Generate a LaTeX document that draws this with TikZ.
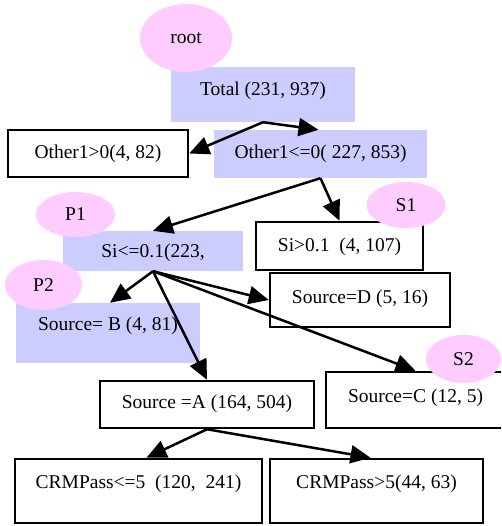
\documentclass[tikz,border=0pt]{standalone}
\usepackage{fontspec}
\setmainfont{Liberation Serif}
\usepackage{tikz}
\usetikzlibrary{shapes.geometric, arrows.meta}
\definecolor{nodepink}{RGB}{255,204,255}
\definecolor{nodeblue}{RGB}{204,204,255}

\begin{document}
\begin{tikzpicture}[x=1pt, y=-1pt,
    font=\fontsize{19.5}{23}\selectfont,
    bluebox/.style={rectangle, fill=nodeblue, inner sep=0pt, text height=14pt, text depth=4pt},
    whitebox/.style={rectangle, draw, line width=2.5pt, fill=white, inner sep=0pt, text height=14pt, text depth=4pt},
    tag/.style={ellipse, fill=nodepink, inner sep=0pt},
    arr/.style={-{Triangle[length=20pt,width=18pt]}, line width=2.5pt}]
    \clip (0,0) rectangle (501,526);
    % Top of the tree
    \node[bluebox, minimum width=184, minimum height=55, text depth=12pt] (total) at (263,94.5) {Total (231, 937)\hspace{18pt}};
    \node[whitebox, minimum width=180, minimum height=47] (oth1) at (98,153.5) {Other1>0(4, 82)\hspace{14pt}};
    \node[bluebox, minimum width=213, minimum height=48] (oth2) at (320.5,154) {Other1<=0( 227, 853)};
    % Si split
    \node[bluebox, minimum width=180, minimum height=40, text depth=2pt] (si1) at (153,251) {Si<=0.1(223,\hspace{39pt}};
    \node[whitebox, minimum width=167, minimum height=48] (si2) at (339.5,246) {Si>0.1\ \ (4, 107)};
    % Source split
    \node[bluebox, minimum width=184, minimum height=60, text depth=19pt] (srcb) at (108,333) {Source= B (4, 81)};
    \node[whitebox, minimum width=180, minimum height=54, text depth=8pt] (srcd) at (360,300) {Source=D (5, 16)};
    \node[whitebox, minimum width=214, minimum height=47, text depth=6pt] (srca) at (207,404.5) {Source =A (164, 504)};
    \node[whitebox, minimum width=179, minimum height=56, text depth=10pt] (srcc) at (415.5,400) {Source=C (12, 5)};
    % CRMPass split
    \node[whitebox, minimum width=247, minimum height=64, text depth=19pt] (crm1) at (138.5,491) {CRMPass<=5\ \ (120,\ \ 241)};
    \node[whitebox, minimum width=213, minimum height=64, text depth=19pt] (crm2) at (376.5,491) {CRMPass>5(44, 63)\hspace{11pt}};

    % Arrows
    \draw[arr] (total.south) -- (oth1.east);
    \draw[arr] (total.south) -- ([xshift=-2pt]oth2.north);
    \draw[arr] (oth2.south) -- (si1.north);
    \draw[arr] (oth2.south) -- (si2.north);
    \draw[arr] (si1.south) -- ([xshift=2pt]srcb.north);
    \draw[arr] (si1.south) -- (srcd.west);
    \draw[arr] (si1.south) -- (srca.north);
    \draw[arr] (si1.south) -- (srcc.north);
    \draw[arr] (srca.south) -- ([xshift=8pt]crm1.north);
    \draw[arr] (srca.south) -- ([xshift=-6pt]crm2.north);

    % Tags
    \node[tag, minimum width=92, minimum height=68] (root) at (186,38) {root};
    \node[tag, minimum width=79, minimum height=45] (p1) at (75.5,214.5) {P1};
    \node[tag, minimum width=79, minimum height=46] (s1) at (406,205) {S1};
    \node[tag, minimum width=77, minimum height=50] (p2) at (43.5,285) {P2};
    \node[tag, minimum width=75, minimum height=48] (s2) at (463.5,359) {S2};
\end{tikzpicture}
\end{document}
